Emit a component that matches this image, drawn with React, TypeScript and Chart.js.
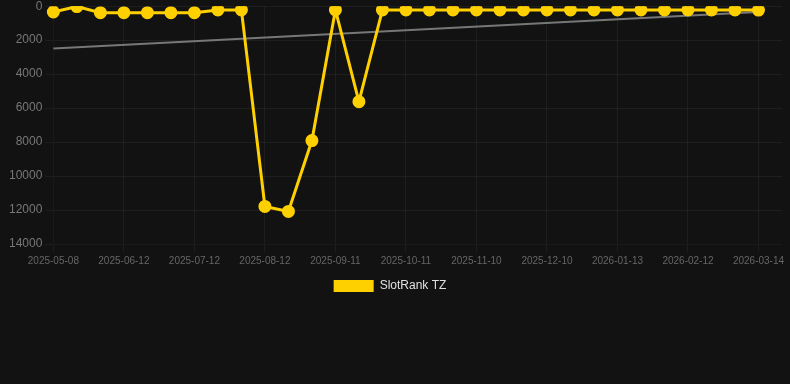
import React, { useEffect, useRef } from "react";
import { Chart, registerables } from "chart.js";

Chart.register(...registerables);

const dates = [
  "2025-05-08", "2025-05-20", "2025-06-01", "2025-06-12", "2025-06-22", "2025-07-02",
  "2025-07-12", "2025-07-22", "2025-08-02", "2025-08-12", "2025-08-22", "2025-09-01",
  "2025-09-11", "2025-09-21", "2025-10-01", "2025-10-11", "2025-10-21", "2025-10-31",
  "2025-11-10", "2025-11-20", "2025-11-30", "2025-12-10", "2025-12-21", "2026-01-02",
  "2026-01-13", "2026-01-23", "2026-02-02", "2026-02-12", "2026-02-22", "2026-03-04",
  "2026-03-14", "2026-03-24",
];

const rankValues = [
  340, 20, 380, 380, 380, 380, 380, 220, 220, 11790, 12080, 7910, 220, 5620, 220, 220,
  220, 220, 220, 220, 220, 220, 220, 220, 220, 220, 220, 220, 220, 220, 230,
];

const trendValues = [
  2490, null, null, null, null, null, null, null, null, null, null, null, null, null, null, null,
  null, null, null, null, null, null, null, null, null, null, null, null, null, null, 340,
];

const yTicks = [0, 2000, 4000, 6000, 8000, 10000, 12000, 14000];

const legendShift = {
  id: "legendShift",
  afterLayout(chart: any) {
    if (chart.legend) {
      chart.legend.left -= 8;
      chart.legend.right -= 8;
    }
  },
};

export default function App() {
  const ref = useRef<HTMLCanvasElement | null>(null);

  useEffect(() => {
    document.body.style.margin = "0";
    document.body.style.background = "#121212";
    const chart = new Chart(ref.current as HTMLCanvasElement, {
      type: "line",
      data: {
        labels: dates,
        datasets: [
          {
            label: "SlotRank TZ",
            data: rankValues,
            borderColor: "#FFD000",
            backgroundColor: "#FFD000",
            borderWidth: 3,
            pointRadius: 5,
            pointBackgroundColor: "#FFD000",
            pointBorderColor: "#FFD000",
            tension: 0,
            order: 0,
          },
          {
            label: "Trend",
            data: trendValues,
            borderColor: "#777777",
            backgroundColor: "#777777",
            borderWidth: 2,
            pointRadius: 0,
            spanGaps: true,
            order: 1,
          },
        ],
      },
      plugins: [legendShift],
      options: {
        animation: false,
        responsive: true,
        maintainAspectRatio: false,
        layout: { padding: { left: 6, right: 0, top: 0, bottom: 0 } },
        plugins: {
          legend: {
            position: "bottom",
            labels: {
              color: "#e0e0e0",
              font: { size: 12 },
              boxWidth: 40,
              boxHeight: 12,
              generateLabels: (c) => {
                const items = Chart.defaults.plugins.legend.labels.generateLabels(c);
                return items
                  .filter((it) => it.text !== "Trend")
                  .map((it) => ({ ...it, lineWidth: 0 }));
              },
            },
          },
          tooltip: { enabled: false },
        },
        scales: {
          x: {
            grid: { color: "rgba(255,255,255,0.05)" },
            ticks: {
              color: "#666666",
              font: { size: 10 },
              maxRotation: 0,
              minRotation: 0,
              autoSkip: true,
            },
          },
          y: {
            reverse: true,
            min: 0,
            max: 14000,
            afterBuildTicks: (axis) => {
              axis.ticks = yTicks.map((v) => ({ value: v }));
            },
            grid: { color: "rgba(255,255,255,0.05)" },
            ticks: {
              color: "#777777",
              font: { size: 12 },
              callback: (v) => String(v),
            },
          },
        },
      },
    });
    return () => chart.destroy();
  }, []);

  return (
    <div style={{ position: "fixed", inset: 0, background: "#121212", overflow: "hidden" }}>
      <div style={{ width: 790, height: 306, position: "relative", marginTop: -4 }}>
        <canvas ref={ref} />
      </div>
    </div>
  );
}
